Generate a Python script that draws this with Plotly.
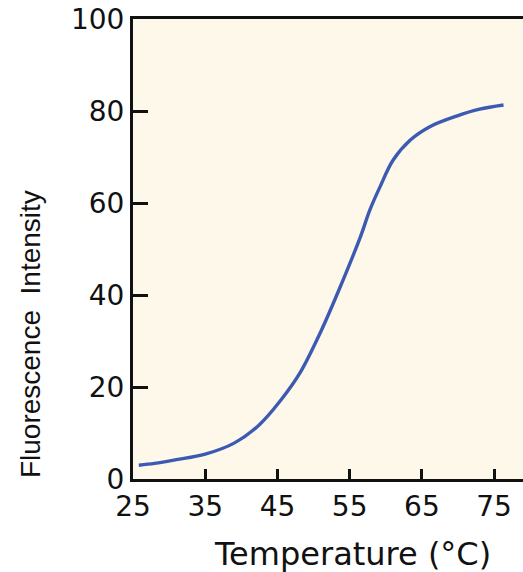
import plotly.graph_objects as go

temperature = [25.8, 28.0, 31.0, 35.0, 39.0, 42.5, 45.4, 48.1, 50.9, 53.7, 56.5, 57.8, 59.2, 61.0, 63.4, 66.1, 69.8, 73.0, 76.3]
fluorescence = [3.0, 3.4, 4.2, 5.4, 7.8, 11.8, 17.0, 23.0, 31.7, 41.8, 52.7, 58.5, 63.5, 69.3, 73.7, 76.6, 78.9, 80.4, 81.3]
x_ticks = [25, 35, 45, 55, 65, 75]
y_ticks = [0, 20, 40, 60, 80, 100]

fig = go.Figure()
fig.add_trace(go.Scatter(
    x=temperature, y=fluorescence, mode="lines",
    line=dict(color="#3d5ab3", width=3.4, shape="spline", smoothing=1.0),
    hoverinfo="skip", showlegend=False,
))

tick_font = dict(family="DejaVu Sans", size=28, color="#111111")

fig.update_layout(
    width=523, height=572,
    margin=dict(l=133, r=0, t=19, b=93),
    paper_bgcolor="white",
    plot_bgcolor="#fdf8ea",
    showlegend=False,
    xaxis=dict(
        range=[25, 79.0], tickvals=x_ticks, ticktext=[str(v) for v in x_ticks],
        ticks="inside", ticklen=10, tickwidth=2.5, tickcolor="#111111",
        showline=True, linecolor="#111111", linewidth=3, mirror=True,
        showgrid=False, zeroline=False, tickfont=tick_font, automargin=False,
        ticklabeloverflow="allow",
    ),
    yaxis=dict(
        range=[0, 100], tickvals=y_ticks, ticktext=[str(v) for v in y_ticks],
        ticks="inside", ticklen=15, tickwidth=2.5, tickcolor="#111111",
        showline=True, linecolor="#111111", linewidth=3,
        showgrid=False, zeroline=False, tickfont=tick_font, automargin=False,
        ticklabeloverflow="allow",
    ),
    annotations=[
        dict(text="Fluorescence  Intensity", xref="paper", yref="paper",
             x=-0.263, y=0.316, xanchor="center", yanchor="middle", textangle=-90,
             showarrow=False,
             font=dict(family="Liberation Sans, sans-serif", size=28, color="#111111")),
        dict(text="Temperature (°C)", xref="paper", yref="paper",
             x=0.562, y=-0.163, xanchor="center", yanchor="middle",
             showarrow=False,
             font=dict(family="DejaVu Sans", size=32, color="#111111")),
    ],
)

fig.write_html("out.html", config={"displayModeBar": False},
               post_script="document.body.style.margin='0';")
